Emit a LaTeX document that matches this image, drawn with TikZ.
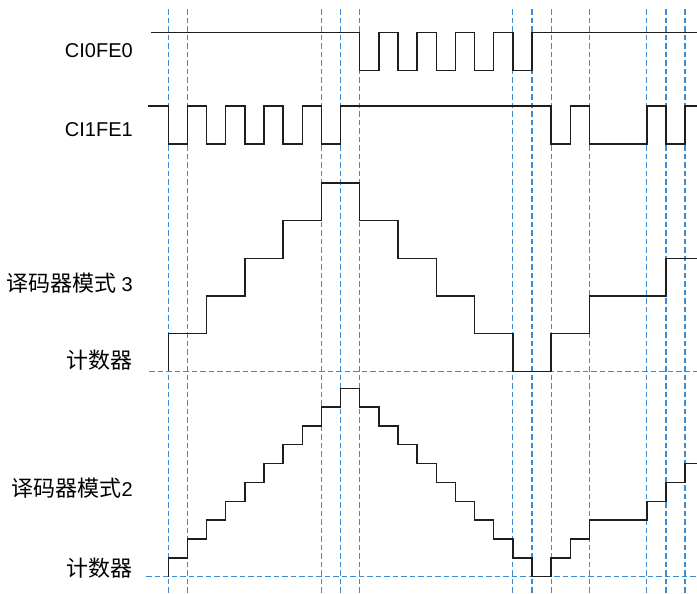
\documentclass[tikz,border=0pt]{standalone}
\usepackage{fontspec}
\setmainfont{Liberation Sans}
\newfontfamily\cjk{Noto Sans CJK SC}
\definecolor{guide}{HTML}{3A8DD3}
\definecolor{wave}{HTML}{1E1E1E}
\begin{document}
\begin{tikzpicture}[x=1pt,y=-1pt,
  guideline/.style={draw=guide,line width=1.2pt,dash pattern=on 5.5pt off 3pt},
  waveline/.style={draw=wave,line width=1.4pt,line join=miter},
  lbl/.style={anchor=base east,inner sep=0pt,font=\fontsize{20}{24}\selectfont}]
\useasboundingbox (0,0) rectangle (697,594);
% labels
\node[lbl] (l0) at (133,57.3) {CI0FE0};
\node[lbl] (l1) at (133,136.7) {CI1FE1};
\node[lbl] (m3) at (133,291) {{\fontsize{22}{24}\selectfont\cjk 译码器模式} 3};
\node[lbl] (c3) at (133,368) {{\fontsize{22}{24}\selectfont\cjk 计数器}};
\node[lbl] (m2) at (133,496) {{\fontsize{22}{24}\selectfont\cjk 译码器模式}2};
\node[lbl] (c2) at (133,576) {{\fontsize{22}{24}\selectfont\cjk 计数器}};
\begin{scope}[x=19.14pt,xshift=168.3pt]
% guides
\foreach \k in {0,1,8,9,10,18,19,20,22,25,26,27}
  \draw[guideline] (\k,9.3) -- (\k,594);
\draw[guideline] (-1.008,371.3) -- (27.62,371.3);
\draw[guideline] (-1.16,576.7) -- (27.62,576.7);
% CI0FE0
\draw[waveline] (-0.904,32.7) -- (10,32.7) |- (11,70.7) |- (12,32.7) |- (13,70.7) |- (14,32.7)
  |- (15,70.7) |- (16,32.7) |- (17,70.7) |- (18,32.7) |- (19,70.7) |- (27.62,32.7);
% CI1FE1
\draw[waveline] (-1.045,106) -- (0,106) |- (1,144) |- (2,106) |- (3,144) |- (4,106) |- (5,144)
  |- (6,106) |- (7,144) |- (8,106) |- (9,144) |- (20,106) |- (21,144) |- (22,106) |- (25,144)
  |- (26,106) |- (27,144) |- (27.62,106);
% counter mode 3
\draw[waveline] (0,371.3) |- (2,333.64) |- (4,295.98) |- (6,258.32) |- (8,220.66) |- (10,183)
  |- (12,220.66) |- (14,258.32) |- (16,295.98) |- (18,333.64) |- (20,371.3) |- (22,333.64)
  |- (26,295.98) |- (27.62,258.32);
% counter mode 2
\draw[waveline] (0,576.7)
  \foreach \i in {1,...,10} { |- (\i,{576.7-18.85*\i}) }
  \foreach \i in {11,...,20} { |- (\i,{576.7-18.85*(20-\i)}) }
  |- (21,557.85) |- (22,539.0) |- (25,520.15) |- (26,501.3) |- (27,482.45) |- (27.62,463.6);
\end{scope}
\end{tikzpicture}
\end{document}
